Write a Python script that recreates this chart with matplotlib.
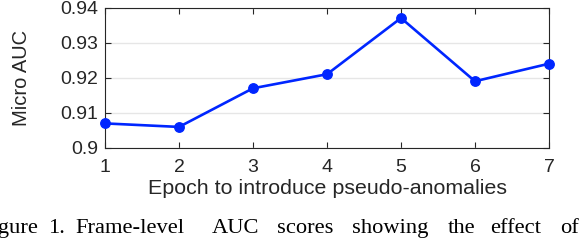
import matplotlib
matplotlib.use("Agg")
import matplotlib.pyplot as plt

epochs = [1, 2, 3, 4, 5, 6, 7]
micro_auc = [0.907, 0.906, 0.917, 0.921, 0.937, 0.919, 0.924]
yticks = [0.9, 0.91, 0.92, 0.93, 0.94]
ytick_labels = ["0.9", "0.91", "0.92", "0.93", "0.94"]
caption_words = ["Figure", "1.", "Frame-level", "AUC", "scores", "showing", "the", "effect", "of"]

plt.rcParams['font.family'] = ['Liberation Sans', 'DejaVu Sans']
txt = '#262626'
W, H = 582, 240

fig = plt.figure(figsize=(W/100, H/100), dpi=100)
ax = fig.add_axes([105/W, 1 - 148/H, 444/W, 140.5/H])

ax.plot(epochs, micro_auc, color='#0026ff', lw=1.9, marker='o', ms=6.8, zorder=3, clip_on=False)
ax.set_xlim(1, 7)
ax.set_ylim(0.9, 0.94)
ax.set_xticks(epochs)
ax.set_yticks(yticks)
ax.set_yticklabels(ytick_labels)
ax.grid(axis='y', color='#e6e6e6', lw=1)
ax.set_axisbelow(True)
ax.tick_params(direction='in', top=True, right=True, labelsize=14, colors=txt,
               length=4, width=0.8)
ax.tick_params(axis='x', pad=8)
ax.tick_params(axis='y', pad=5)
for s in ax.spines.values():
    s.set_color(txt)
    s.set_linewidth(0.8)
ax.set_xlabel("Epoch to introduce pseudo-anomalies", fontsize=15.4, color=txt)
ax.set_ylabel("Micro AUC", fontsize=14.5, color=txt)
ax.xaxis.set_label_coords(0.5, -(179 - 148)/140.5)
ax.yaxis.set_label_coords((31 - 105)/444, 0.5)

# caption below the chart (justified line, cut at the left edge)
word_x = [38, 48, 75, 212, 277, 352, 448, 490, 560]
for i, (w, x) in enumerate(zip(caption_words, word_x)):
    fig.text(x/W, 1 - 233/H, w, family=['Liberation Serif', 'DejaVu Serif'], fontsize=16.2,
             ha='right' if i == 0 else 'left', va='baseline', color='black')

fig.savefig("out.png", dpi=100)
